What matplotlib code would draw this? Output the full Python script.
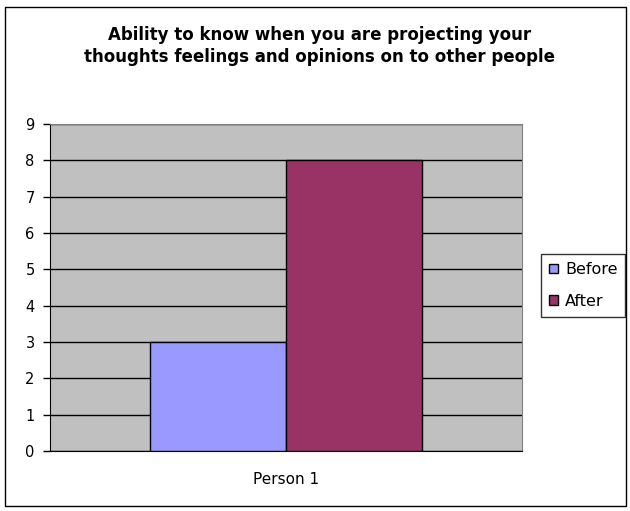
import numpy as np
import matplotlib.pyplot as plt
from matplotlib.patches import Rectangle

plt.rcParams['font.family'] = ['DejaVu Sans']

# donnees
categories = ['Person 1']
before = [3]
after = [8]
series_names = ['Before', 'After']
title = 'Ability to know when you are projecting your\nthoughts feelings and opinions on to other people'

fig = plt.figure(figsize=(6.3, 5.11), dpi=100)
ax = fig.add_axes([50/630, 1-451/511, 472/630, 327/511])

# cadre exterieur
fig.patches.append(Rectangle((5/630, 5/511), 621/630, 499/511, transform=fig.transFigure,
                             fill=False, edgecolor='black', linewidth=1))

x = np.arange(len(categories))
w = 0.288
ax.bar(x - w/2, before, w, color='#9999FF', edgecolor='black', linewidth=1, label=series_names[0], zorder=3)
ax.bar(x + w/2, after, w, color='#993366', edgecolor='black', linewidth=1, label=series_names[1], zorder=3)

ax.set_facecolor('#C0C0C0')
ax.set_xlim(-0.5, 0.5)
ax.set_ylim(0, 9)
ax.set_yticks(range(0, 10))
ax.yaxis.grid(True, color='black', linewidth=1, zorder=1)
ax.set_axisbelow(True)
ax.set_xticks(x)
ax.set_xticklabels(categories)
ax.tick_params(axis='x', length=0, pad=15, labelsize=11)
ax.tick_params(axis='y', length=5, width=1, direction='out', labelsize=10.5, pad=6)
for s in ['top', 'right']:
    ax.spines[s].set_color('#808080')
ax.spines['left'].set_color('black')
ax.spines['bottom'].set_color('black')

fig.text(320/630, 1-46/511, title, ha='center', va='center', fontsize=12,
         fontweight='bold', linespacing=1.25)

leg = fig.legend(loc='upper left', bbox_to_anchor=(541/630, 1-254/511), frameon=True,
                 fancybox=False, edgecolor='black', fontsize=11.5, handlelength=0.55,
                 handleheight=0.55, handletextpad=0.45, borderpad=0.5, labelspacing=1.05,
                 borderaxespad=0)
leg.get_frame().set_linewidth(1)

fig.savefig('out.png', dpi=100)
